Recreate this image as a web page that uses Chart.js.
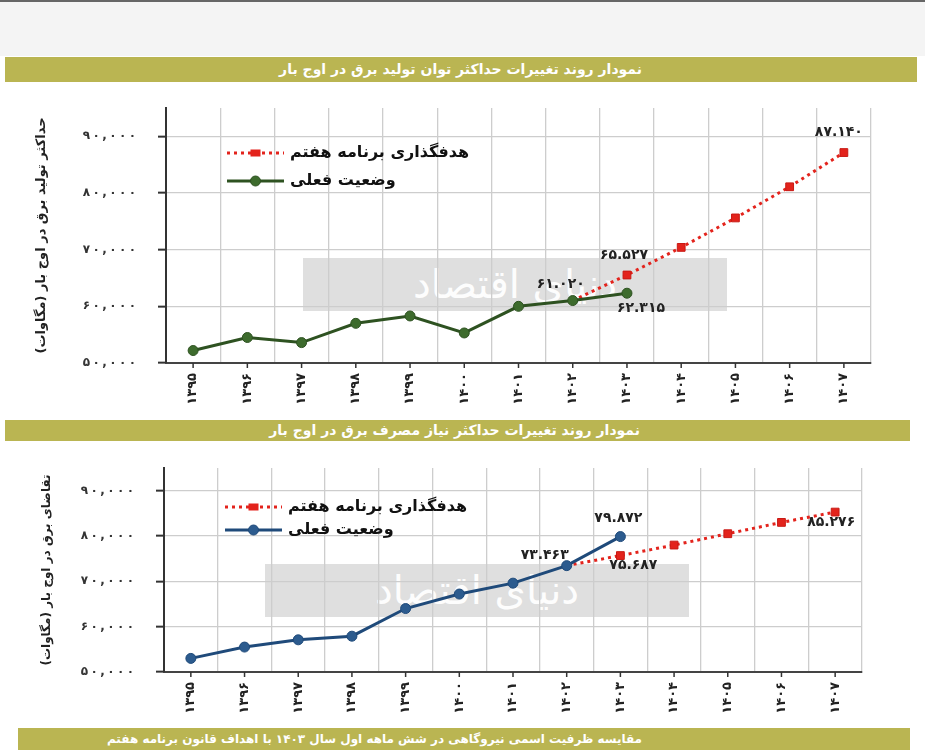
<!DOCTYPE html>
<html lang="fa">
<head>
<meta charset="utf-8">
<script src="https://cdn.jsdelivr.net/npm/chart.js@4.4.1/dist/chart.umd.min.js"></script>
<style>
  html, body { margin: 0; padding: 0; background: #fff; }
  body { width: 925px; height: 753px; position: relative; overflow: hidden; font-family: 'DejaVu Sans', sans-serif; }
  .top { position: absolute; left: 0; top: 0; width: 925px; height: 56px; background: #f4f4f4; border-top: 2px solid #666; box-sizing: border-box; }
  .band { position: absolute; background: #bab552; color: #fff; font-weight: bold; font-size: 14px; direction: rtl; text-align: right; box-sizing: border-box; white-space: nowrap; }
  canvas { position: absolute; left: 0; }
  .wm { position: absolute; background: rgba(150,150,150,0.3); color: rgba(255,255,255,0.95); font-size: 40px; text-align: center; direction: rtl; line-height: 53px; height: 53px; width: 424px; pointer-events: none; }
</style>
</head>
<body>
<div class="top"></div>
<div class="band" style="left:5px;top:57px;width:912px;height:25px;line-height:25px;padding-right:275px;">نمودار روند تغییرات حداکثر توان تولید برق در اوج بار</div>
<div class="wm" style="left:303px;top:258px;">دنیای اقتصاد</div>
<div class="wm" style="left:265px;top:564px;">دنیای اقتصاد</div>
<canvas id="gen" width="925" height="330" style="top:90px"></canvas>
<div class="band" style="left:5px;top:420px;width:905px;height:21px;line-height:21px;padding-right:270px;">نمودار روند تغییرات حداکثر نیاز مصرف برق در اوج بار</div>
<canvas id="demand" width="925" height="280" style="top:445px"></canvas>
<div class="band" style="left:18px;top:728px;width:892px;height:22px;line-height:22px;padding-right:268px;font-size:12px;">مقایسه ظرفیت اسمی نیروگاهی در شش ماهه اول سال ۱۴۰۳ با اهداف قانون برنامه هفتم</div>
<script>
// سال‌ها
const years = ['۱۳۹۵', '۱۳۹۶', '۱۳۹۷', '۱۳۹۸', '۱۳۹۹', '۱۴۰۰', '۱۴۰۱', '۱۴۰۲', '۱۴۰۳', '۱۴۰۴', '۱۴۰۵', '۱۴۰۶', '۱۴۰۷'];

// حداکثر توان تولید (مگاوات)
const genActual = [52200, 54500, 53600, 57000, 58300, 55300, 60000, 61020, 62315, null, null, null, null];
const genTarget = [null, null, null, null, null, null, null, 61020, 65527, 70400, 75600, 81100, 87140];

// حداکثر نیاز مصرف (مگاوات)
const demandActual = [53000, 55500, 57100, 57900, 64000, 67200, 69600, 73463, 79872, null, null, null, null];
const demandTarget = [null, null, null, null, null, null, null, 73463, 75687, 78000, 80500, 83000, 85276];

const yTicks = [50000, 60000, 70000, 80000, 90000];

const labelTarget = 'هدفگذاری برنامه هفتم';
const labelActual = 'وضعیت فعلی';

const faDigits = '۰۱۲۳۴۵۶۷۸۹';
function faNum(v, sep) {
  const s = Math.round(v).toString().replace(/\B(?=(\d{3})+(?!\d))/g, sep);
  return s.replace(/\d/g, d => faDigits[d]);
}

// legend drawn inside the plot
const innerLegend = {
  id: 'innerLegend',
  afterDraw(chart, args, opts) {
    const { ctx, chartArea } = chart;
    ctx.save();
    opts.order.forEach((dsIndex, row) => {
      const ds = chart.data.datasets[dsIndex];
      const x0 = chartArea.left + opts.x;
      const y = chartArea.top + opts.y + row * opts.gap;
      const len = 57;
      ctx.beginPath();
      ctx.strokeStyle = ds.borderColor;
      ctx.lineWidth = ds.borderWidth;
      ctx.setLineDash(ds.borderDash || []);
      ctx.moveTo(x0, y);
      ctx.lineTo(x0 + len, y);
      ctx.stroke();
      ctx.setLineDash([]);
      ctx.fillStyle = ds.pointBackgroundColor;
      ctx.strokeStyle = ds.pointBorderColor;
      ctx.lineWidth = 1;
      const cx = x0 + len / 2;
      if (ds.pointStyle === 'rect') {
        ctx.fillRect(cx - 5, y - 3.5, 10, 7);
      } else {
        ctx.beginPath();
        ctx.arc(cx, y, 5, 0, Math.PI * 2);
        ctx.fill();
        ctx.stroke();
      }
      ctx.fillStyle = '#111';
      ctx.font = 'bold 16px "DejaVu Sans"';
      ctx.direction = 'rtl';
      ctx.textAlign = 'left';
      ctx.textBaseline = 'middle';
      ctx.fillText(ds.label, x0 + len + 6, y);
    });
    ctx.restore();
  }
};

// value labels next to selected points
const pointLabels = {
  id: 'pointLabels',
  afterDatasetsDraw(chart, args, opts) {
    const ctx = chart.ctx;
    ctx.save();
    ctx.font = 'bold 14px "DejaVu Sans"';
    ctx.letterSpacing = '2.5px';
    ctx.fillStyle = '#222';
    ctx.textAlign = 'center';
    ctx.textBaseline = 'middle';
    opts.items.forEach(it => {
      const el = chart.getDatasetMeta(it.ds).data[it.i];
      const v = chart.data.datasets[it.ds].data[it.i];
      ctx.fillText(faNum(v, '.'), el.x + it.dx, el.y + it.dy);
    });
    ctx.restore();
  }
};

// small tick marks under each year
const centerTicks = {
  id: 'centerTicks',
  afterDraw(chart) {
    const { ctx, chartArea } = chart;
    const xs = chart.scales.x;
    ctx.save();
    ctx.strokeStyle = '#333';
    ctx.lineWidth = 1.5;
    xs.ticks.forEach((t, i) => {
      const x = xs.getPixelForTick(i);
      ctx.beginPath();
      ctx.moveTo(x, chartArea.bottom);
      ctx.lineTo(x, chartArea.bottom + 5);
      ctx.stroke();
    });
    ctx.restore();
  }
};

function buildChart(id, cfg) {
  return new Chart(document.getElementById(id), {
    type: 'line',
    data: {
      labels: years,
      datasets: [
        {
          label: labelActual,
          data: cfg.actual,
          borderColor: cfg.line,
          borderWidth: 3,
          pointStyle: 'circle',
          pointRadius: 5,
          pointBackgroundColor: cfg.point,
          pointBorderColor: cfg.line,
          pointBorderWidth: 1,
          tension: 0
        },
        {
          label: labelTarget,
          data: cfg.target,
          borderColor: '#e3231c',
          borderWidth: 3,
          borderDash: [3, 4],
          pointStyle: 'rect',
          pointRadius: c => (c.dataIndex === 7 ? 0 : 5.5),
          pointBackgroundColor: '#e3231c',
          pointBorderColor: '#c81a14',
          pointBorderWidth: 1,
          tension: 0
        }
      ]
    },
    options: {
      responsive: false,
      animation: false,
      layout: { padding: { top: cfg.padTop, right: cfg.padRight, left: 0, bottom: 0 } },
      plugins: {
        legend: { display: false },
        tooltip: { enabled: false },
        innerLegend: { order: [1, 0], x: 61, y: cfg.legendY, gap: cfg.legendGap },
        pointLabels: { items: cfg.labels }
      },
      scales: {
        x: {
          offset: true,
          grid: { offset: true, color: '#cdcdcd', lineWidth: 1.3, drawTicks: false },
          border: { color: '#444', width: 2 },
          ticks: { maxRotation: 90, minRotation: 90, padding: 10, color: '#222', font: { family: 'DejaVu Sans', size: 13, weight: 'bold' } },
          afterFit(s) { s.height = cfg.xHeight; }
        },
        y: {
          min: 50000,
          max: 95000,
          afterBuildTicks(s) { s.ticks = yTicks.map(v => ({ value: v })); },
          ticks: {
            padding: 22, color: '#333',
            font: { family: 'DejaVu Sans', size: 12, weight: 'bold' },
            callback: v => faNum(v, ',').split('').join('\u2009')
          },
          grid: { color: '#cdcdcd', lineWidth: 1.3, tickLength: 8, tickColor: '#333', tickWidth: 2 },
          border: { color: '#333', width: 2 },
          title: { display: true, text: cfg.yTitle + '\u200F', color: '#222', font: { family: 'DejaVu Sans', size: cfg.titleSize, weight: 'bold' }, padding: { top: cfg.titlePad } },
          afterFit(s) {
            s.width = cfg.yWidth;
            s.paddingTop = 0;
            s.paddingBottom = 0;
          }
        }
      }
    },
    plugins: [innerLegend, pointLabels, centerTicks]
  });
}

buildChart('gen', {
  actual: genActual,
  target: genTarget,
  line: '#2e5221',
  point: '#3d6b2d',
  yTitle: 'حداکثر تولید برق در اوج بار (مگاوات)',
  padTop: 18, padRight: 54, xHeight: 57, yWidth: 166, titlePad: 34, titleSize: 13,
  legendY: 45, legendGap: 28,
  labels: [
    { ds: 1, i: 12, dx: -5, dy: -20 },
    { ds: 1, i: 8, dx: -3, dy: -20 },
    { ds: 0, i: 7, dx: -12, dy: -16 },
    { ds: 0, i: 8, dx: 14, dy: 15 }
  ]
});

buildChart('demand', {
  actual: demandActual,
  target: demandTarget,
  line: '#1f4a7a',
  point: '#2c5b8e',
  yTitle: 'تقاضای برق در اوج بار (مگاوات)',
  padTop: 23, padRight: 63, xHeight: 53, yWidth: 164, titlePad: 40, titleSize: 12,
  legendY: 39, legendGap: 23,
  labels: [
    { ds: 0, i: 8, dx: -2, dy: -18 },
    { ds: 0, i: 7, dx: -22, dy: -10 },
    { ds: 1, i: 8, dx: 13, dy: 10 },
    { ds: 1, i: 12, dx: -4, dy: 10 }
  ]
});
</script>
</body>
</html>
